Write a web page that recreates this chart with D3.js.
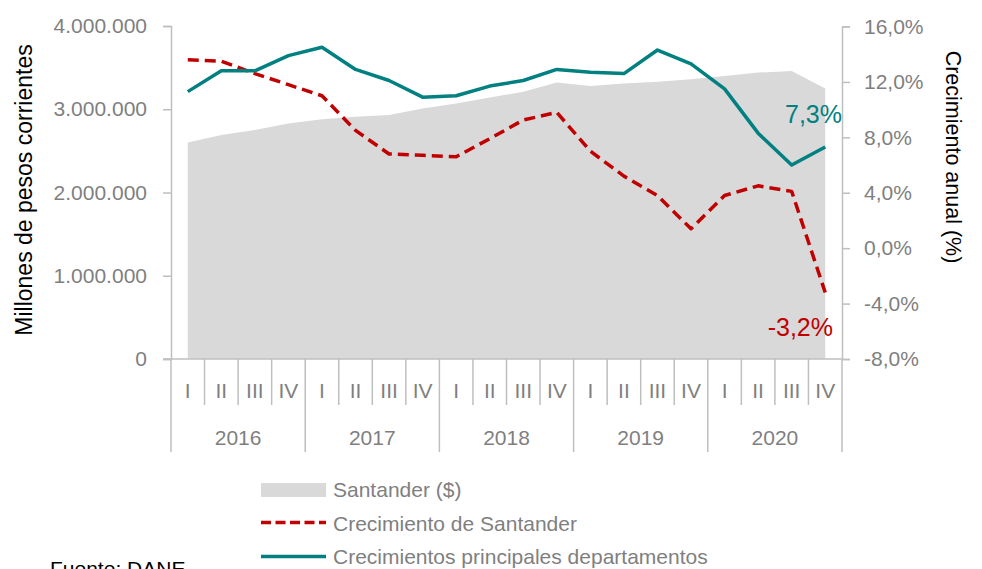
<!DOCTYPE html>
<html>
<head>
<meta charset="utf-8">
<script src="https://cdn.jsdelivr.net/npm/d3@7"></script>
<style>
  body { margin: 0; background: #fff; }
  svg { font-family: "Liberation Sans", Arial, sans-serif; }
</style>
</head>
<body>
<div id="chart"></div>
<script>
// data
var years = ["2016", "2017", "2018", "2019", "2020"];
var quarterNames = ["I", "II", "III", "IV"];
var santander = [2600000, 2690000, 2750000, 2830000, 2880000, 2910000, 2930000, 3010000, 3070000, 3140000,
  3210000, 3320000, 3280000, 3310000, 3330000, 3360000, 3400000, 3440000, 3460000, 3250000];
var crecSantander = [13.6, 13.5, 12.6, 11.8, 11.0, 8.5, 6.8, 6.7, 6.6, 7.9,
  9.25, 9.8, 7.0, 5.2, 3.8, 1.4, 3.8, 4.5, 4.1, -3.2];
var crecDeptos = [11.3, 12.8, 12.8, 13.9, 14.5, 12.9, 12.1, 10.9, 11.0, 11.7,
  12.1, 12.9, 12.7, 12.6, 14.3, 13.3, 11.5, 8.3, 6.0, 7.3];
var leftTicks = [0, 1000000, 2000000, 3000000, 4000000];
var rightTicks = [-8, -4, 0, 4, 8, 12, 16];

var width = 982, height = 569;
var margin = { top: 26, right: 140, bottom: 210, left: 171 };
var gray = "#7f7f7f", axisColor = "#bfbfbf";
var red = "#c00000", teal = "#008080";

var locale = d3.formatLocale({ decimal: ",", thousands: ".", grouping: [3], currency: ["$", ""], minus: "-" });
var fmtLeft = locale.format(",.0f");
var fmtRight = function (d) { return locale.format(".1f")(d) + "%"; };

var svg = d3.select("#chart").append("svg")
  .attr("width", width)
  .attr("height", height);

// one band per quarter
var periods = [];
years.forEach(function (y) {
  quarterNames.forEach(function (q) { periods.push(y + "-" + q); });
});

var x = d3.scaleBand()
  .domain(periods)
  .range([margin.left, width - margin.right]);

var yLeft = d3.scaleLinear()
  .domain([0, 4000000])
  .range([height - margin.bottom, margin.top]);

var yRight = d3.scaleLinear()
  .domain([-8, 16])
  .range([height - margin.bottom, margin.top + 0.5]);

var cx = function (d, i) { return x(periods[i]) + x.bandwidth() / 2; };
var x0 = x.range()[0], x1 = x.range()[1];
var baseY = yLeft(0);

// area
svg.append("path")
  .datum(santander)
  .attr("fill", "#d9d9d9")
  .attr("d", d3.area()
    .x(cx)
    .y0(baseY)
    .y1(function (d) { return yLeft(d); }));

// lines
svg.append("path")
  .datum(crecSantander)
  .attr("fill", "none")
  .attr("stroke", red)
  .attr("stroke-width", 3.5)
  .attr("stroke-dasharray", "11,6")
  .attr("stroke-linejoin", "round")
  .attr("d", d3.line()
    .x(cx)
    .y(function (d) { return yRight(d); }));

svg.append("path")
  .datum(crecDeptos)
  .attr("fill", "none")
  .attr("stroke", teal)
  .attr("stroke-width", 3.5)
  .attr("stroke-linejoin", "round")
  .attr("d", d3.line()
    .x(cx)
    .y(function (d) { return yRight(d); }));

// left axis
var gLeft = svg.append("g")
  .attr("transform", "translate(" + x0 + ",0)")
  .call(d3.axisLeft(yLeft).tickValues(leftTicks).tickFormat(fmtLeft).tickSizeOuter(0).tickSize(8).tickPadding(16));
gLeft.select(".domain").attr("stroke", axisColor).attr("stroke-width", 1.5);
gLeft.selectAll(".tick line").attr("stroke", axisColor).attr("stroke-width", 1.5);
gLeft.selectAll(".tick text").attr("fill", gray).style("font-size", "21px");

// right axis
var gRight = svg.append("g")
  .attr("transform", "translate(" + x1 + ",0)")
  .call(d3.axisRight(yRight).tickValues(rightTicks).tickFormat(fmtRight).tickSizeOuter(0).tickSize(8).tickPadding(14));
gRight.select(".domain").attr("stroke", axisColor).attr("stroke-width", 1.5);
gRight.selectAll(".tick line").attr("stroke", axisColor).attr("stroke-width", 1.5);
gRight.selectAll(".tick text").attr("fill", gray).style("font-size", "21px");

// category axis: baseline, separators, labels
svg.append("line")
  .attr("x1", x0 - 8).attr("x2", x1)
  .attr("y1", baseY).attr("y2", baseY)
  .attr("stroke", axisColor).attr("stroke-width", 1.5);

svg.selectAll(".sep")
  .data(d3.range(periods.length + 1))
  .enter()
  .append("line")
  .attr("class", "sep")
  .attr("x1", function (i) { return x0 + i * x.step(); })
  .attr("x2", function (i) { return x0 + i * x.step(); })
  .attr("y1", baseY)
  .attr("y2", function (i) { return i % 4 === 0 ? 452 : 405; })
  .attr("stroke", axisColor)
  .attr("stroke-width", 1.5);

svg.selectAll(".qlabel")
  .data(periods)
  .enter()
  .append("text")
  .attr("class", "qlabel")
  .attr("x", function (d) { return x(d) + x.bandwidth() / 2; })
  .attr("y", 398)
  .attr("text-anchor", "middle")
  .attr("fill", gray)
  .style("font-size", "21px")
  .text(function (d) { return d.split("-")[1]; });

svg.selectAll(".ylabel")
  .data(years)
  .enter()
  .append("text")
  .attr("class", "ylabel")
  .attr("x", function (d, i) { return x0 + (i * 4 + 2) * x.step(); })
  .attr("y", 445)
  .attr("text-anchor", "middle")
  .attr("fill", gray)
  .style("font-size", "21px")
  .text(function (d) { return d; });

// axis titles
svg.append("text")
  .attr("transform", "translate(32,190) rotate(-90)")
  .attr("text-anchor", "middle")
  .attr("fill", "#000")
  .style("font-size", "23px")
  .text("Millones de pesos corrientes");

svg.append("text")
  .attr("transform", "translate(946,157) rotate(90)")
  .attr("text-anchor", "middle")
  .attr("fill", "#000")
  .style("font-size", "21.5px")
  .text("Crecimiento anual (%)");

// end labels
var last = periods.length - 1;
svg.append("text")
  .attr("x", 842).attr("y", 123)
  .attr("text-anchor", "end")
  .attr("fill", teal)
  .style("font-size", "25px")
  .text(fmtRight(crecDeptos[last]));

svg.append("text")
  .attr("x", 833).attr("y", 336)
  .attr("text-anchor", "end")
  .attr("fill", red)
  .style("font-size", "25px")
  .text(fmtRight(crecSantander[last]));

// legend
var legend = svg.append("g").attr("transform", "translate(261,0)");
legend.append("rect")
  .attr("x", 0).attr("y", 483)
  .attr("width", 65).attr("height", 14)
  .attr("fill", "#d9d9d9");
legend.append("line")
  .attr("x1", 0).attr("x2", 65).attr("y1", 522.5).attr("y2", 522.5)
  .attr("stroke", red).attr("stroke-width", 3.5).attr("stroke-dasharray", "10,4.5");
legend.append("line")
  .attr("x1", 0).attr("x2", 65).attr("y1", 556.5).attr("y2", 556.5)
  .attr("stroke", teal).attr("stroke-width", 3.5);

var legendItems = ["Santander ($)", "Crecimiento de Santander", "Crecimientos principales departamentos"];
legend.selectAll(".ltext")
  .data(legendItems)
  .enter()
  .append("text")
  .attr("class", "ltext")
  .attr("x", 72)
  .attr("y", function (d, i) { return 497 + i * 33.5; })
  .attr("fill", gray)
  .style("font-size", "21px")
  .text(function (d) { return d; });

// source note, cut by the frame
svg.append("text")
  .attr("x", 50).attr("y", 576)
  .attr("fill", "#000")
  .style("font-size", "21px")
  .text("Fuente: DANE");
</script>
</body>
</html>
